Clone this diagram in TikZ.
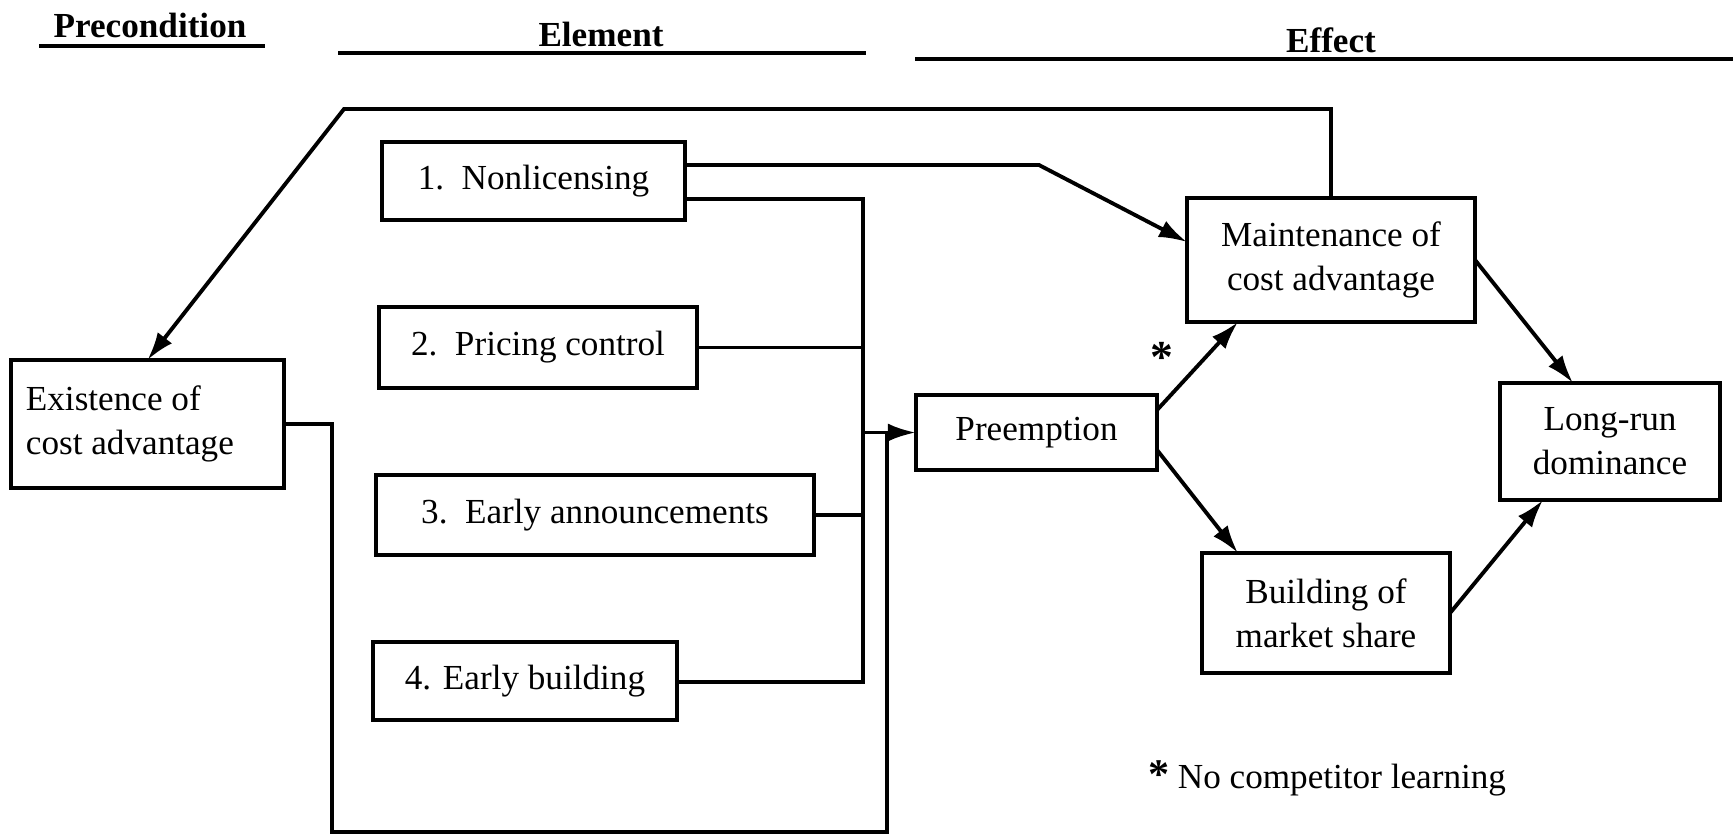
\documentclass[tikz,border=0pt]{standalone}
\usepackage{fontspec}
\setmainfont{Liberation Serif}
\usetikzlibrary{positioning,arrows.meta}

\begin{document}
\begin{tikzpicture}[x=0.01cm, y=-0.01cm,
    box/.style={draw, line width=1.3pt, inner sep=0pt, outer sep=0pt, align=center, font=\fontsize{10}{12.5}\selectfont},
    link/.style={line width=1.1pt},
    arr/.style={line width=1.1pt, -{Latex[length=2.8mm,width=1.8mm]}},
    head/.style={font=\fontsize{10}{12}\selectfont\bfseries},
    headrule/.style={line width=1.4pt}]
  \useasboundingbox (0,0) rectangle (1733,838);

  % Intestazioni
  \node[head] (hpre) at (150,25) {Precondition};
  \node[head] (hel) at (601,34) {Element};
  \node[head] (hef) at (1331,40) {Effect};
  \draw[headrule] (39,46) -- (265,46);
  \draw[headrule] (338,53) -- (866,53);
  \draw[headrule] (915,59) -- (1733,59);

  % Riquadri
  \node[box, minimum height=1.28cm, text width=2.43cm, inner xsep=0.15cm, align=flush left] (pre) at (147.5,424) {Existence of\\cost advantage};
  \node[box, minimum width=3.03cm, minimum height=0.78cm] (n1) at (533.5,181) {1.\ \ Nonlicensing};
  \node[box, minimum width=3.18cm, minimum height=0.81cm] (n2) at (538,347.5) {2.\ \ Pricing control};
  \node[box, minimum width=4.38cm, minimum height=0.80cm] (n3) at (595,515) {3.\ \ Early announcements};
  \node[box, minimum width=3.04cm, minimum height=0.78cm] (n4) at (525,681) {4. Early building};
  \node[box, minimum width=2.41cm, minimum height=0.75cm] (pree) at (1036.5,432.5) {Preemption};
  \node[box, minimum width=2.88cm, minimum height=1.24cm] (maint) at (1331,260) {Maintenance of\\cost advantage};
  \node[box, minimum width=2.48cm, minimum height=1.20cm] (build) at (1326,613) {Building of\\market share};
  \node[box, minimum width=2.20cm, minimum height=1.17cm] (lrun) at (1610,441.5) {Long-run\\dominance};

  % Punti di piega
  \coordinate (fb) at (344,109);
  \coordinate (k1) at (1039,165);
  \coordinate (k2) at (1187,242);
  \coordinate (bt) at (863,199);
  \coordinate (bb) at (863,682);
  \coordinate (lp) at (332,832);
  \coordinate (lq) at (887,832);

  % Collegamenti
  \draw[arr] (maint.north) |- (fb) -- (pre.north);
  \draw[arr] (n1.east |- k1) -- (k1) -- (maint.west |- k2);
  \draw[link] (n1.east |- bt) -- (bt) -- (bb) -- (n4.east |- bb);
  \draw[link] (n2.east) -- (n2.east -| bt);
  \draw[link] (n3.east) -- (n3.east -| bt);
  \draw[arr] (pree.west -| bt) -- (pree.west);
  \draw[link] (pre.east) -| (lp) -- (lq) -- (lq |- pree.west);
  \draw[arr] ([yshift=2.25mm]pree.east) -- ([xshift=-9.3mm]maint.south);
  \draw[arr] ([yshift=-1.75mm]pree.east) -- ([xshift=-8.8mm]build.north);
  \draw[arr] (maint.east) -- ([xshift=-3.7mm]lrun.north);
  \draw[arr] (build.east) -- ([xshift=-6.7mm]lrun.south);

  % Nota
  \node[font=\fontsize{13}{13}\selectfont\bfseries] (ast) at (1162,357) {*};
  \node[font=\fontsize{10}{12}\selectfont] (nota) at (1327,778) {{\large\textbf{*}} No competitor learning};
\end{tikzpicture}
\end{document}
